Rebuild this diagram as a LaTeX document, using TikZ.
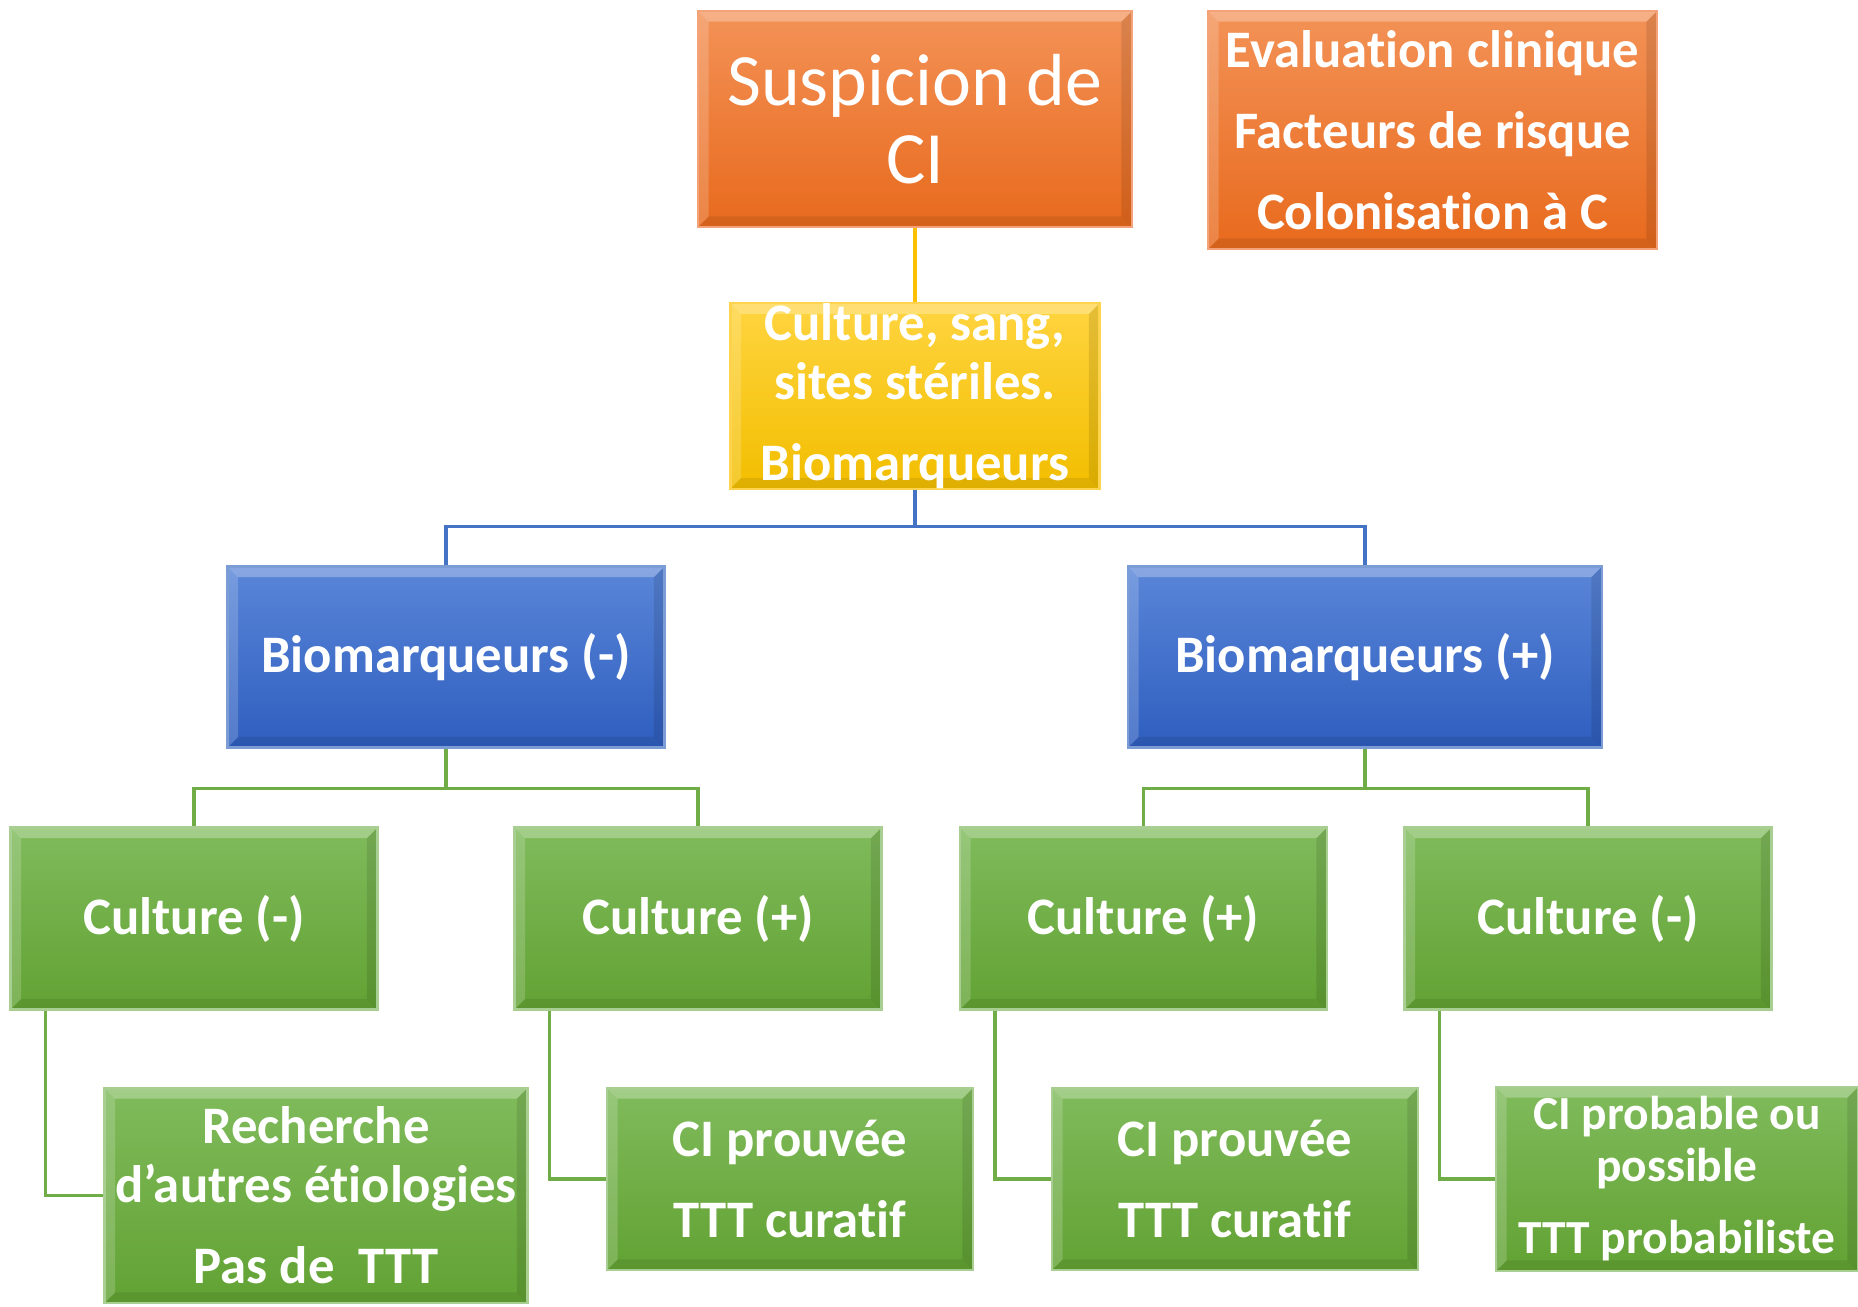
\documentclass[tikz,border=0pt]{standalone}
\usepackage{fontspec}
\setmainfont{Carlito}[RawFeature={-liga;-clig;-calt;-dlig}]
\usetikzlibrary{positioning}

\definecolor{orangetop}{HTML}{F39257}
\definecolor{orangebot}{HTML}{E86A1D}
\definecolor{orangeline}{HTML}{F4A27A}
\definecolor{yellowtop}{HTML}{FFD43F}
\definecolor{yellowbot}{HTML}{F2BE00}
\definecolor{yellowline}{HTML}{FFC000}
\definecolor{bluetop}{HTML}{5A86D8}
\definecolor{bluebot}{HTML}{2E5EBF}
\definecolor{blueline}{HTML}{4472C4}
\definecolor{greentop}{HTML}{80BB5C}
\definecolor{greenbot}{HTML}{62A233}
\definecolor{greenline}{HTML}{70AD47}

\tikzset{
    bevel/.style={path picture={
        \fill[white,opacity=.28] (path picture bounding box.north west) -- (path picture bounding box.north east)
            -- ([xshift=-3pt,yshift=-3pt]path picture bounding box.north east) -- ([xshift=3pt,yshift=-3pt]path picture bounding box.north west) -- cycle;
        \fill[white,opacity=.18] (path picture bounding box.north west) -- (path picture bounding box.south west)
            -- ([xshift=3pt,yshift=3pt]path picture bounding box.south west) -- ([xshift=3pt,yshift=-3pt]path picture bounding box.north west) -- cycle;
        \fill[black,opacity=.10] (path picture bounding box.south east) -- (path picture bounding box.north east)
            -- ([xshift=-3pt,yshift=-3pt]path picture bounding box.north east) -- ([xshift=-3pt,yshift=3pt]path picture bounding box.south east) -- cycle;
        \fill[black,opacity=.08] (path picture bounding box.south east) -- (path picture bounding box.south west)
            -- ([xshift=3pt,yshift=3pt]path picture bounding box.south west) -- ([xshift=-3pt,yshift=3pt]path picture bounding box.south east) -- cycle;
    }},
    box/.style={rectangle, bevel, inner sep=0pt, align=center, text=white, line width=0.6pt,
        font=\fontsize{15}{16.8}\selectfont\bfseries},
    orangebox/.style={box, draw=orangeline, top color=orangetop, bottom color=orangebot},
    yellowbox/.style={box, draw=yellowline!70!white, top color=yellowtop, bottom color=yellowbot},
    bluebox/.style={box, draw=blueline!70!white, top color=bluetop, bottom color=bluebot,
        minimum height=1.81cm},
    greenbox/.style={box, draw=greenline!60!white, top color=greentop, bottom color=greenbot,
        minimum width=3.67cm, minimum height=1.82cm},
    link/.style={line width=1pt},
}

\begin{document}
\begin{tikzpicture}[on grid]
    \useasboundingbox (0,0) rectangle (18.58,-13.07);

    % top row
    \node[orangebox, minimum width=4.34cm, minimum height=2.16cm,
        font=\fontsize{21}{22}\selectfont] (sus) at (9.15,-1.19) {Suspicion de\\CI};
    \node[orangebox, minimum width=4.49cm, minimum height=2.38cm] (eval) [below right=0.11cm and 5.175cm of sus]
        {Evaluation clinique\\[6.2pt]Facteurs de risque\\[6.2pt]Colonisation à C};
    \node[yellowbox, minimum width=3.69cm, minimum height=1.84cm] (cult) [below=2.77cm of sus]
        {Culture, sang,\\sites stériles.\\[6.2pt]Biomarqueurs};

    % biomarkers
    \node[bluebox, minimum width=4.37cm] (bmneg) [below left=2.61cm and 4.69cm of cult] {Biomarqueurs (-)};
    \node[bluebox, minimum width=4.74cm] (bmpos) [below right=2.61cm and 4.50cm of cult] {Biomarqueurs (+)};

    % cultures
    \node[greenbox] (cneg1) [below left=2.615cm and 2.52cm of bmneg] {Culture (-)};
    \node[greenbox] (cpos1) [below right=2.615cm and 2.52cm of bmneg] {Culture (+)};
    \node[greenbox] (cpos2) [below left=2.615cm and 2.215cm of bmpos] {Culture (+)};
    \node[greenbox] (cneg2) [below right=2.615cm and 2.23cm of bmpos] {Culture (-)};

    % outcomes
    \node[greenbox, minimum width=4.23cm, minimum height=2.15cm] (rech) [below right=2.77cm and 1.22cm of cneg1]
        {Recherche\\d’autres étiologies\\[6.2pt]Pas de~ TTT};
    \node[greenbox, minimum width=3.66cm] (prv1) [below right=2.605cm and 0.92cm of cpos1]
        {CI prouvée\\[6.2pt]TTT curatif};
    \node[greenbox, minimum width=3.66cm] (prv2) [below right=2.605cm and 0.915cm of cpos2]
        {CI prouvée\\[6.2pt]TTT curatif};
    \node[greenbox, minimum width=3.62cm, minimum height=1.84cm,
        font=\fontsize{13.5}{14.8}\selectfont\bfseries] (prob) [below right=2.605cm and 0.89cm of cneg2]
        {CI probable ou\\possible\\[5.7pt]TTT probabiliste};

    % connectors
    \draw[link, yellowline] (sus) -- (cult);
    \draw[link, blueline] (cult.south) -- ++(0,-0.37) -| (bmneg.north);
    \draw[link, blueline] (cult.south) -- ++(0,-0.37) -| (bmpos.north);
    \draw[link, greenline] (bmneg.south) -- ++(0,-0.40) -| (cneg1.north);
    \draw[link, greenline] (bmneg.south) -- ++(0,-0.40) -| (cpos1.north);
    \draw[link, greenline] (bmpos.south) -- ++(0,-0.40) -| (cpos2.north);
    \draw[link, greenline] (bmpos.south) -- ++(0,-0.40) -| (cneg2.north);
    \draw[link, greenline] ([xshift=0.36cm]cneg1.south west) |- (rech.west);
    \draw[link, greenline] ([xshift=0.36cm]cpos1.south west) |- (prv1.west);
    \draw[link, greenline] ([xshift=0.36cm]cpos2.south west) |- (prv2.west);
    \draw[link, greenline] ([xshift=0.36cm]cneg2.south west) |- (prob.west);
\end{tikzpicture}
\end{document}
